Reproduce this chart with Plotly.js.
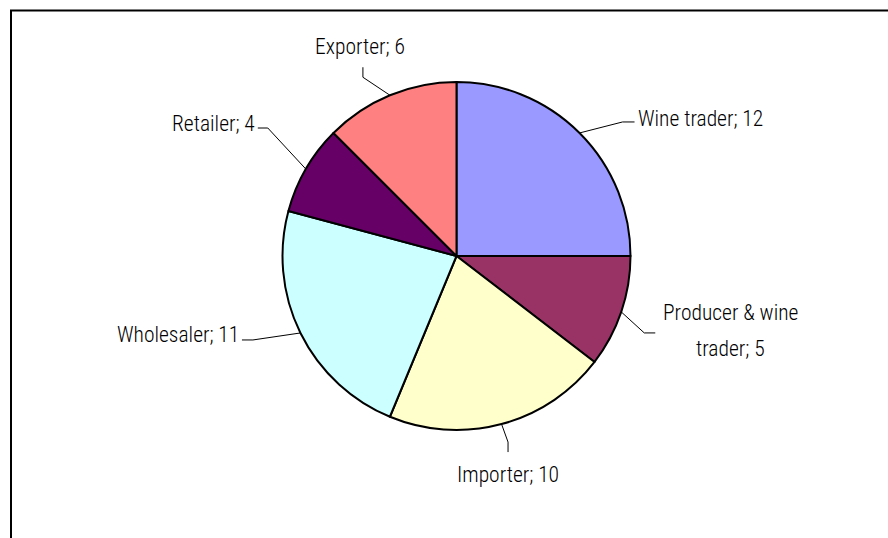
<!DOCTYPE html>
<html>
<head>
<meta charset="utf-8">
<script src="https://cdn.plot.ly/plotly-3.0.1.min.js"></script>
<style>html,body{margin:0;padding:0;background:#fff;}#chart{width:888px;height:538px;}</style>
</head>
<body>
<div id="chart"></div>
<script>
// ---- data ----
const categories = ["Wine trader", "Producer & wine trader", "Importer", "Wholesaler", "Retailer", "Exporter"];
const values = [12, 5, 10, 11, 4, 6];
const colors = ["#9999FF", "#993366", "#FFFFCC", "#CCFFFF", "#660066", "#FF8080"];

// ---- layout / style ----
const W = 888, H = 538;
const pieCx = 456.5, pieCy = 256, pieR = 174;
const FONT = {family: "'Roboto Condensed', 'Liberation Sans Narrow', 'DejaVu Sans Condensed', sans-serif", size: 21.5, color: "#000", weight: 300};

// leader-line elbow offsets (px) and label placement per slice
const leaderStyle = [
  {e1: [43, -11], e2: [12, 0], anchor: "left",   tdx: 1,  tdy: -3, lines: null},
  {e1: [23, 21],  e2: [11, 0], anchor: "center", tdx: 75, tdy: -20, lines: ["Producer & wine", "trader"], lineGap: 36},
  {e1: [6.5, 18], e2: [0, 10], anchor: "center", tdx: 0,  tdy: 22, lines: null},
  {e1: [-47.5, 7], e2: [-11, 0], anchor: "right", tdx: -1, tdy: -5, lines: null},
  {e1: [-38, -41], e2: [-10, 0], anchor: "right", tdx: -1, tdy: -5, lines: null},
  {e1: [-27, -18], e2: [0, -10], anchor: "center", tdx: -3, tdy: -21, lines: null}
];

const px2x = x => x / W;
const px2y = y => 1 - y / H;

const total = values.reduce((a, b) => a + b, 0);
const shapes = [];
const annotations = [];
let cum = 0;
values.forEach((v, i) => {
  const mid = (cum + v / 2) / total * 2 * Math.PI; // clockwise from 12 o'clock
  cum += v;
  const ex = pieCx + pieR * Math.sin(mid);
  const ey = pieCy - pieR * Math.cos(mid);
  const s = leaderStyle[i];
  const bx = ex + s.e1[0], by = ey + s.e1[1];
  const cx = bx + s.e2[0], cy = by + s.e2[1];
  shapes.push({
    type: "path", xref: "paper", yref: "paper",
    path: `M ${px2x(ex)},${px2y(ey)} L ${px2x(bx)},${px2y(by)} L ${px2x(cx)},${px2y(cy)}`,
    line: {color: "#000", width: 1}
  });
  const tx = cx + s.tdx, ty = cy + s.tdy;
  if (s.lines) {
    s.lines.forEach((ln, k) => {
      const txt = (k === s.lines.length - 1) ? ln + "; " + v : ln;
      annotations.push({
        xref: "paper", yref: "paper", x: px2x(tx), y: px2y(ty + k * s.lineGap),
        xanchor: s.anchor, yanchor: "middle", showarrow: false, text: txt, font: FONT
      });
    });
  } else {
    annotations.push({
      xref: "paper", yref: "paper", x: px2x(tx), y: px2y(ty),
      xanchor: s.anchor, yanchor: "middle", showarrow: false,
      text: categories[i] + "; " + v, font: FONT
    });
  }
});

// chart frame (left and top edges visible)
shapes.push({
  type: "rect", xref: "paper", yref: "paper",
  x0: px2x(11), y0: px2y(10.5), x1: 1.2, y1: -0.2,
  line: {color: "#000", width: 2}
});

const trace = {
  type: "pie",
  labels: categories,
  values: values,
  sort: false,
  direction: "clockwise",
  rotation: 0,
  marker: {colors: colors, line: {color: "#000", width: 2}},
  textinfo: "none",
  hoverinfo: "label+value",
  domain: {
    x: [px2x(pieCx - pieR), px2x(pieCx + pieR)],
    y: [px2y(pieCy + pieR), px2y(pieCy - pieR)]
  },
  showlegend: false
};

const layout = {
  width: W, height: H,
  margin: {l: 0, r: 0, t: 0, b: 0},
  paper_bgcolor: "#fff",
  plot_bgcolor: "#fff",
  showlegend: false,
  shapes: shapes,
  annotations: annotations,
  font: FONT
};

Plotly.newPlot("chart", [trace], layout, {staticPlot: true});
</script>
</body>
</html>
